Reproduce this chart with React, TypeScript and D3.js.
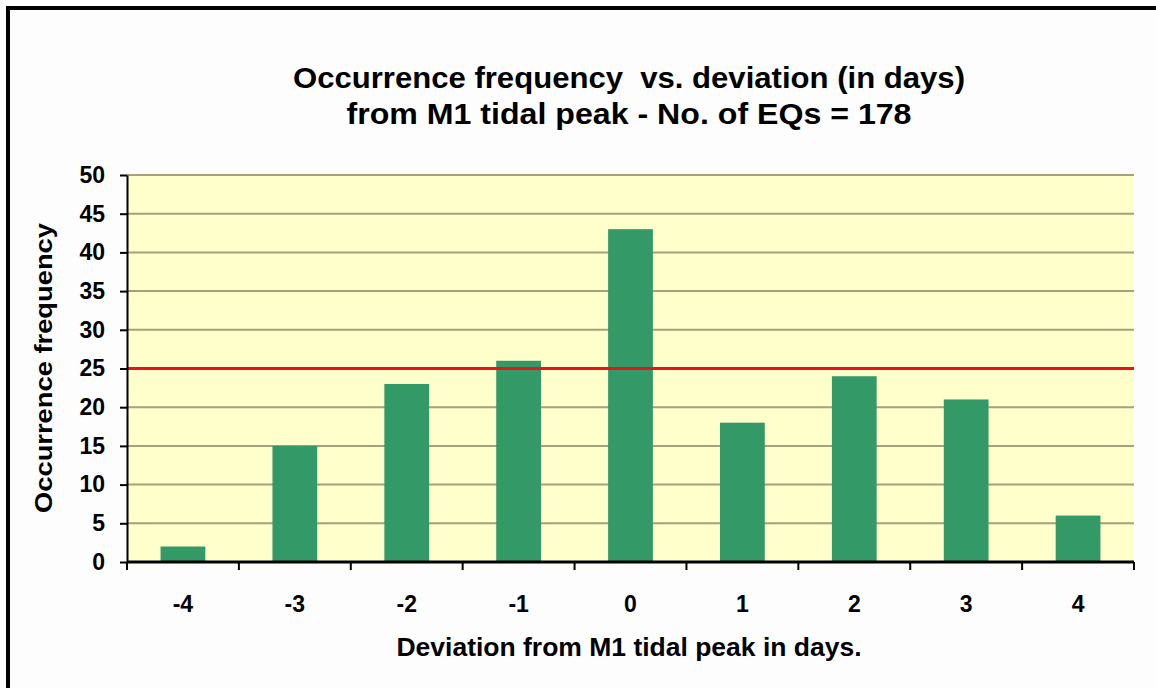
import React, { useEffect, useRef } from "react";
import * as d3 from "d3";

const categories = ["-4", "-3", "-2", "-1", "0", "1", "2", "3", "4"];
const frequencies = [2, 15, 23, 26, 43, 18, 24, 21, 6];
const yTicks = [0, 5, 10, 15, 20, 25, 30, 35, 40, 45, 50];
const meanLevel = 25;

const titleLines = [
  "Occurrence frequency  vs. deviation (in days)",
  "from M1 tidal peak - No. of EQs = 178",
];
const xLabel = "Deviation from M1 tidal peak in days.";
const yLabel = "Occurrence frequency";

const App: React.FC = () => {
  const svgRef = useRef<SVGSVGElement>(null);

  useEffect(() => {
    if (!svgRef.current) return;
    const width = 1156;
    const height = 688;
    const svg = d3.select(svgRef.current);
    svg.selectAll("*").remove();
    svg.attr("width", width).attr("height", height);

    const font = "Liberation Sans, Arial, sans-serif";
    const margin = { top: 175, right: 22, bottom: 126, left: 127 };
    const innerWidth = width - margin.left - margin.right;
    const innerHeight = height - margin.top - margin.bottom;

    svg.append("rect")
      .attr("width", width)
      .attr("height", height)
      .attr("fill", "#fdfdfd");

    // outer frame (right and bottom edges are cut off in the original)
    svg.append("rect")
      .attr("x", 8)
      .attr("y", 8)
      .attr("width", width + 20)
      .attr("height", height + 20)
      .attr("fill", "none")
      .attr("stroke", "#000")
      .attr("stroke-width", 4);

    const g = svg.append("g")
      .attr("transform", `translate(${margin.left},${margin.top})`);

    const x = d3.scaleBand()
      .domain(categories)
      .range([0, innerWidth])
      .paddingInner(0.6)
      .paddingOuter(0.3);

    const y = d3.scaleLinear()
      .domain([0, 50])
      .range([innerHeight, 0]);

    g.append("rect")
      .attr("width", innerWidth)
      .attr("height", innerHeight)
      .attr("fill", "#ffffcc");

    // gridlines
    g.selectAll("line.grid")
      .data(yTicks.filter(t => t > 0))
      .join("line")
      .attr("class", "grid")
      .attr("x1", 0)
      .attr("x2", innerWidth)
      .attr("y1", d => y(d))
      .attr("y2", d => y(d))
      .attr("stroke", "#a5a17a")
      .attr("stroke-width", 2);

    g.selectAll("rect.bar")
      .data(frequencies)
      .join("rect")
      .attr("class", "bar")
      .attr("x", (_, i) => x(categories[i])!)
      .attr("y", d => y(d))
      .attr("width", x.bandwidth())
      .attr("height", d => innerHeight - y(d))
      .attr("fill", "#339966");

    g.append("line")
      .attr("x1", 0)
      .attr("x2", innerWidth)
      .attr("y1", y(meanLevel))
      .attr("y2", y(meanLevel))
      .attr("stroke", "#e8141a")
      .attr("stroke-width", 3);

    // y axis
    const yAxis = g.append("g")
      .call(d3.axisLeft(y).tickValues(yTicks).tickSize(7).tickSizeOuter(0).tickPadding(15));
    yAxis.select(".domain").attr("stroke", "#000").attr("stroke-width", 2);
    yAxis.selectAll("line").attr("stroke", "#000").attr("stroke-width", 2);
    yAxis.selectAll("text")
      .attr("fill", "#000")
      .style("font-family", font)
      .style("font-size", "23px")
      .style("font-weight", "bold");

    // x axis: ticks at category boundaries
    const step = x.step();
    const boundaries = d3.range(categories.length + 1).map(i => i * step);
    const xAxis = g.append("g").attr("transform", `translate(0,${innerHeight})`);
    xAxis.append("line")
      .attr("x1", 0)
      .attr("x2", innerWidth)
      .attr("stroke", "#000")
      .attr("stroke-width", 3);
    xAxis.selectAll("line.tick")
      .data(boundaries)
      .join("line")
      .attr("class", "tick")
      .attr("x1", d => d)
      .attr("x2", d => d)
      .attr("y1", 0)
      .attr("y2", 8)
      .attr("stroke", "#000")
      .attr("stroke-width", 2);
    xAxis.selectAll("text")
      .data(categories)
      .join("text")
      .attr("x", d => x(d)! + x.bandwidth() / 2)
      .attr("y", 50)
      .attr("text-anchor", "middle")
      .style("font-family", font)
      .style("font-size", "23px")
      .style("font-weight", "bold")
      .text(d => d);

    svg.append("text")
      .attr("x", 629)
      .attr("y", 656)
      .attr("text-anchor", "middle")
      .attr("textLength", 465)
      .attr("lengthAdjust", "spacingAndGlyphs")
      .style("font-family", font)
      .style("font-size", "25px")
      .style("font-weight", "bold")
      .text(xLabel);

    svg.append("text")
      .attr("transform", `translate(52,368) rotate(-90)`)
      .attr("text-anchor", "middle")
      .attr("textLength", 290)
      .attr("lengthAdjust", "spacingAndGlyphs")
      .style("font-family", font)
      .style("font-size", "23px")
      .style("font-weight", "bold")
      .text(yLabel);

    const titleWidths = [672, 565];
    svg.selectAll("text.title")
      .data(titleLines)
      .join("text")
      .attr("class", "title")
      .attr("x", 629)
      .attr("y", (_, i) => 88 + i * 36)
      .attr("text-anchor", "middle")
      .attr("textLength", (_, i) => titleWidths[i])
      .attr("lengthAdjust", "spacingAndGlyphs")
      .style("font-family", font)
      .style("font-size", "29px")
      .style("font-weight", "bold")
      .style("white-space", "pre")
      .text(d => d);
  }, []);

  return (
    <div style={{ position: "absolute", left: 0, top: 0 }}>
      <svg ref={svgRef} style={{ display: "block" }} />
    </div>
  );
};

export default App;
